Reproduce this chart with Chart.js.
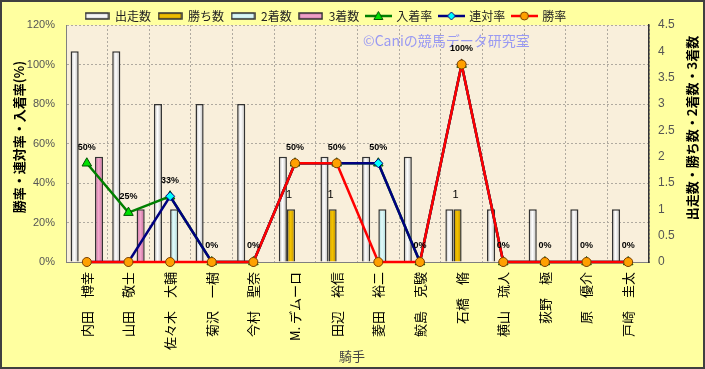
<!DOCTYPE html>
<html lang="ja">
<head>
<meta charset="UTF-8">
<title>騎手別成績</title>
<script src="https://cdn.jsdelivr.net/npm/chart.js"></script>
<style>
  html, body { margin: 0; padding: 0; background: #ffffa0; }
</style>
</head>
<body>
<canvas id="jockeyChart" width="705" height="369"></canvas>
<script>
// data
const jockeys = ['内田　博幸', '山田　敬士', '佐々木　大輔', '菊沢　一樹', '今村　聖奈', 'M. デムーロ', '田辺　裕信',
                 '菱田　裕二', '鮫島　克駿', '石橋　脩', '横山　琉人', '荻野　極', '原　優介', '戸崎　圭太'];
const starts  = [4, 4, 3, 3, 3, 2, 2, 2, 2, 1, 1, 1, 1, 1];
const wins    = [0, 0, 0, 0, 0, 1, 1, 0, 0, 1, 0, 0, 0, 0];
const seconds = [0, 0, 1, 0, 0, 0, 0, 1, 0, 0, 0, 0, 0, 0];
const thirds  = [2, 1, 0, 0, 0, 0, 0, 0, 0, 0, 0, 0, 0, 0];
const placeRate    = [50, 25, 33.3, 0, 0, 50, 50, 50, 0, 100, 0, 0, 0, 0];
const quinellaRate = [0, 0, 33.3, 0, 0, 50, 50, 50, 0, 100, 0, 0, 0, 0];
const winRate      = [0, 0, 0, 0, 0, 50, 50, 0, 0, 100, 0, 0, 0, 0];

const CAT_PCT = 0.78;
const CJK = '"Noto Sans CJK JP", sans-serif';
const LAT = '"Liberation Sans", Arial, sans-serif';

// horizontal "cylinder" fill for each bar
function barFill(edge, mid) {
    return (c) => {
        const s = c.chart.scales.x;
        if (c.type !== 'data' || !s || !s.width) return mid;
        const group = s.width / jockeys.length * CAT_PCT;
        const bw = group / 4;
        const left = s.getPixelForValue(c.dataIndex) - group / 2 + c.datasetIndex * bw;
        const g = c.chart.ctx.createLinearGradient(left, 0, left + bw, 0);
        g.addColorStop(0, edge);
        g.addColorStop(0.45, mid);
        g.addColorStop(1, edge);
        return g;
    };
}

// legend icons
function barIcon(edge, mid) {
    const cv = document.createElement('canvas');
    cv.width = 25; cv.height = 8;
    const x = cv.getContext('2d');
    const g = x.createLinearGradient(0, 0, 0, 8);
    g.addColorStop(0, edge); g.addColorStop(0.5, mid); g.addColorStop(1, edge);
    x.fillStyle = g;
    x.fillRect(1, 1, 23, 6);
    x.strokeStyle = '#333'; x.lineWidth = 1.5;
    x.strokeRect(1, 1, 23, 6);
    return cv;
}
function lineIcon(color, fill, stroke, shape) {
    const cv = document.createElement('canvas');
    cv.width = 27; cv.height = 12;
    const x = cv.getContext('2d');
    x.strokeStyle = color; x.lineWidth = 2.5;
    x.beginPath(); x.moveTo(0, 6); x.lineTo(27, 6); x.stroke();
    x.fillStyle = fill; x.strokeStyle = stroke; x.lineWidth = 1;
    x.beginPath();
    if (shape === 'triangle') { x.moveTo(13.5, 1.5); x.lineTo(18, 9.5); x.lineTo(9, 9.5); x.closePath(); }
    else if (shape === 'diamond') { x.moveTo(13.5, 2); x.lineTo(17.5, 6); x.lineTo(13.5, 10); x.lineTo(9.5, 6); x.closePath(); }
    else { x.arc(13.5, 6, 4, 0, Math.PI * 2); }
    x.fill(); x.stroke();
    return cv;
}
const legendIcons = [
    barIcon('#b8b8b8', '#ffffff'),
    barIcon('#b88a00', '#f5c400'),
    barIcon('#9fd6d6', '#e4fbfb'),
    barIcon('#c8609a', '#f2aacd'),
    lineIcon('#008000', '#00e000', '#005000', 'triangle'),
    lineIcon('#000080', '#00ffff', '#000080', 'diamond'),
    lineIcon('#ff0000', '#ffa000', '#7a4000', 'circle')
];

const decor = {
    id: 'decor',
    afterLayout(chart) {
        // sit the legend where the original has it
        chart.legend.left = 78;
        chart.legend.top = 3;
    },
    beforeDraw(chart) {
        const {ctx, width, height, chartArea: a} = chart;
        ctx.save();
        ctx.fillStyle = '#ffffa0';
        ctx.fillRect(0, 0, width, height);
        ctx.fillStyle = '#f9efdb';
        ctx.fillRect(a.left, a.top, a.right - a.left, a.bottom - a.top);
        ctx.restore();
    },
    beforeDatasetsDraw(chart) {
        const ctx = chart.ctx;
        ctx.save();
        ctx.font = '14px ' + CJK;
        ctx.fillStyle = '#9a9af2';
        ctx.textBaseline = 'middle';
        ctx.fillText('©Caniの競馬データ研究室', 363, 41);
        ctx.restore();
    },
    afterDatasetsDraw(chart) {
        const ctx = chart.ctx;
        ctx.save();
        ctx.textAlign = 'center';
        ctx.textBaseline = 'middle';
        ctx.fillStyle = '#000';
        ctx.font = 'bold 9px ' + LAT;
        chart.getDatasetMeta(4).data.forEach((pt, i) => {
            ctx.fillText(Math.round(placeRate[i]) + '%', pt.x, pt.y - 16);
        });
        ctx.font = '11px ' + LAT;
        chart.getDatasetMeta(1).data.forEach((bar, i) => {
            if (wins[i] > 0) ctx.fillText(String(wins[i]), bar.x - 2, bar.y - 14);
        });
        ctx.restore();
    },
    afterDraw(chart) {
        const ctx = chart.ctx;
        ctx.save();
        ctx.textAlign = 'center';
        ctx.textBaseline = 'middle';
        ctx.fillStyle = '#000';
        ctx.font = 'bold 13px ' + CJK;
        ctx.translate(19, 137);
        ctx.rotate(-Math.PI / 2);
        ctx.fillText('勝率・連対率・入着率(%)', 0, 0);
        ctx.restore();

        ctx.save();
        ctx.textAlign = 'center';
        ctx.textBaseline = 'middle';
        ctx.fillStyle = '#000';
        ctx.font = 'bold 13px ' + CJK;
        ctx.translate(692, 128);
        ctx.rotate(-Math.PI / 2);
        ctx.fillText('出走数・勝ち数・2着数・3着数', 0, 0);
        ctx.restore();

        ctx.save();
        ctx.textAlign = 'center';
        ctx.textBaseline = 'middle';
        ctx.fillStyle = '#444';
        ctx.font = '13px ' + CJK;
        ctx.fillText('騎手', 352, 356);
        ctx.lineWidth = 2;
        ctx.strokeStyle = '#404040';
        ctx.strokeRect(1, 1, chart.width - 2, chart.height - 2);
        ctx.restore();
    }
};

const barBase = {
    yAxisID: 'y2',
    borderColor: '#333',
    borderWidth: 1.5,
    categoryPercentage: CAT_PCT,
    barPercentage: 1.0,
    order: 10
};
const lineBase = {
    type: 'line',
    yAxisID: 'y',
    borderWidth: 2.5,
    tension: 0,
    pointBorderWidth: 1,
    clip: false
};

new Chart(document.getElementById('jockeyChart'), {
    type: 'bar',
    data: {
        labels: jockeys,
        datasets: [
            {...barBase, label: '出走数', data: starts,  backgroundColor: barFill('#b8b8b8', '#ffffff')},
            {...barBase, label: '勝ち数', data: wins,    backgroundColor: barFill('#b88a00', '#f5c400')},
            {...barBase, label: '2着数',  data: seconds, backgroundColor: barFill('#9fd6d6', '#e4fbfb')},
            {...barBase, label: '3着数',  data: thirds,  backgroundColor: barFill('#c8609a', '#f2aacd')},
            {...lineBase, label: '入着率', data: placeRate, borderColor: '#008000',
             pointStyle: 'triangle', pointRadius: 5.5, pointBackgroundColor: '#00e000', pointBorderColor: '#005000', order: 3},
            {...lineBase, label: '連対率', data: quinellaRate, borderColor: '#000080',
             pointStyle: 'rectRot', pointRadius: 4.5, pointBackgroundColor: '#00ffff', pointBorderColor: '#000080', order: 2},
            {...lineBase, label: '勝率', data: winRate, borderColor: '#ff0000',
             pointStyle: 'circle', pointRadius: 4.5, pointBackgroundColor: '#ffa000', pointBorderColor: '#7a4000', order: 1}
        ]
    },
    options: {
        responsive: false,
        animation: false,
        layout: { padding: 0 },
        plugins: {
            tooltip: { enabled: false },
            legend: {
                position: 'top',
                align: 'start',
                maxHeight: 25,
                labels: {
                    usePointStyle: true,
                    pointStyleWidth: 24,
                    padding: 7,
                    color: '#222',
                    font: { size: 12, family: CJK },
                    generateLabels: (chart) => chart.data.datasets.map((ds, i) => ({
                        text: ds.label,
                        pointStyle: legendIcons[i],
                        fillStyle: 'transparent',
                        strokeStyle: 'transparent',
                        lineWidth: 0,
                        hidden: false,
                        datasetIndex: i,
                        fontColor: '#222'
                    }))
                }
            }
        },
        scales: {
            x: {
                offset: true,
                grid: { offset: true, color: '#b0aaa0', drawTicks: false },
                border: { color: '#808080', dash: [2, 2] },
                ticks: {
                    autoSkip: false,
                    minRotation: 90,
                    maxRotation: 90,
                    padding: 10,
                    color: '#000',
                    font: { size: 13, family: CJK }
                },
                afterFit: (s) => { s.height = 107; }
            },
            y: {
                position: 'left',
                min: 0,
                max: 120,
                ticks: {
                    stepSize: 20,
                    padding: 11,
                    color: '#555',
                    font: { size: 11, family: LAT },
                    callback: (v) => v + '%'
                },
                grid: { color: '#b0aaa0', drawTicks: false },
                border: { color: '#808080', dash: [2, 2] },
                afterFit: (s) => { s.width = 66; }
            },
            y2: {
                position: 'right',
                min: 0,
                max: 4.5,
                ticks: {
                    stepSize: 0.5,
                    padding: 9,
                    color: '#555',
                    font: { size: 12, family: LAT },
                    callback: (v) => String(v)
                },
                grid: { drawOnChartArea: false, drawTicks: false },
                border: { color: '#333', width: 1.5 },
                afterFit: (s) => { s.width = 56; }
            }
        }
    },
    plugins: [decor]
});
</script>
</body>
</html>
